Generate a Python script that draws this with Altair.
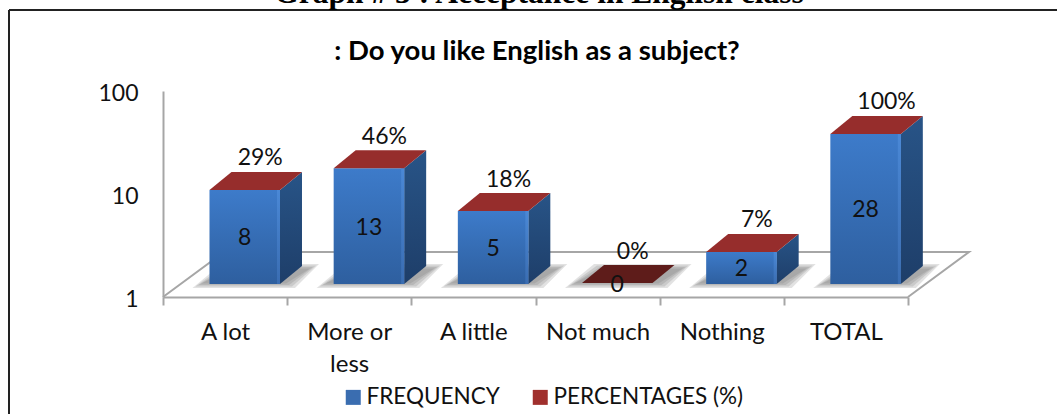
import altair as alt
import pandas as pd

# Survey answers and the two series shown for each of them
categories = ["A lot", "More or less", "A little", "Not much", "Nothing", "TOTAL"]
frequency = [8, 13, 5, 0, 2, 28]
percentages = [29, 46, 18, 0, 7, 100]
series_names = ["FREQUENCY", "PERCENTAGES (%)"]
y_ticks = [1, 10, 100]

# Oblique projection, expressed in screen pixels
PX_PER_CAT = 124.17
PX_PER_DECADE = 103.0


def across(px):
    return px / PX_PER_CAT


def lift(px):
    return 10 ** (px / PX_PER_DECADE)


BAR_LEFT = across(46.5)
BAR_WIDTH = across(70.5)
DEPTH_X = across(22)
DEPTH_LIFT = lift(18)
BASE = lift(13)
TOP = lift(14)

rows, sides, tops, shadows = [], [], [], []
for k, (cat, f, p) in enumerate(zip(categories, frequency, percentages)):
    xl = k + BAR_LEFT
    xr = xl + BAR_WIDTH
    plotted = max(f, 1)
    front = plotted * TOP
    rows.append({
        "cat": cat, "f": f, "p": p, "xl": xl, "xr": xr,
        "xe": xr - across(3),
        "xc": (xl + xr) / 2,
        "top": front, "base": BASE,
        "mid": (plotted ** 0.5) * TOP,
        "xp": (xl + xr) / 2 + across(21 if p == 100 else 15.5),
        "yp": front * DEPTH_LIFT * lift(15),
    })
    sides += [
        {"cat": cat, "f": f, "x": xr, "y": front, "y2": BASE},
        {"cat": cat, "f": f, "x": xr + DEPTH_X, "y": front * DEPTH_LIFT, "y2": BASE * DEPTH_LIFT},
    ]
    tops += [
        {"cat": cat, "f": f, "y": front, "x": xl, "x2": xr},
        {"cat": cat, "f": f, "y": front * DEPTH_LIFT, "x": xl + DEPTH_X, "x2": xr + DEPTH_X},
    ]
    # Soft contact shadow on the floor, built from nested translucent slabs
    for level, grow in enumerate([0, 3, 6, 9]):
        shadows += [
            {"id": f"{k}-{level}", "y": lift(9 + grow / 2),
             "x": xl - across(17 - grow), "x2": xr + across(15 - grow)},
            {"id": f"{k}-{level}", "y": lift(33 - grow / 2),
             "x": xl + across(12 + grow), "x2": xr + across(39 - grow)},
        ]

bars = pd.DataFrame(rows)
sides = pd.DataFrame(sides)
tops = pd.DataFrame(tops)
shadows = pd.DataFrame(shadows)
floor = pd.DataFrame({
    "x": [0, across(61), 6 + across(61), 6],
    "y": [1, lift(45), lift(45), 1],
    "o": [0, 1, 2, 3],
})
legend_rows = pd.DataFrame({"series": series_names})

x_scale = alt.Scale(domain=[0, 6], nice=False, zero=False)
y_scale = alt.Scale(type="log", domain=[1, 100], nice=False)
X = lambda f: alt.X(f, type="quantitative", scale=x_scale, title=None)
Y = lambda f: alt.Y(f, type="quantitative", scale=y_scale, title=None)


def shade(a, b):
    return alt.Gradient(
        gradient="linear", x1=0, x2=0, y1=0, y2=1,
        stops=[alt.GradientStop(color=a, offset=0), alt.GradientStop(color=b, offset=1)],
    )


FONT = "Lato"
GREY = "#A6A6A6"
INK = "#111111"

label_list = "[" + ",".join(
    "[" + ",".join(f"'{w}'" for w in (["More or", "less"] if c == "More or less" else [c])) + "]"
    for c in categories
) + ",['']]"

axes = alt.Chart(bars).mark_point(size=0, opacity=0).encode(
    x=alt.X(
        "xc:Q", scale=x_scale, title=None,
        axis=alt.Axis(
            values=list(range(7)), grid=False, domainColor=GREY, domainWidth=2,
            tickColor=GREY, tickWidth=2, tickSize=8,
            labelExpr=f"{label_list}[datum.value]",
            labelFont=FONT, labelFontSize=24, labelColor=INK, labelPadding=15,
            labelOffset=62, labelOverlap=False, labelLineHeight=32,
            labelBound=False, labelFlush=False,
        ),
    ),
    y=alt.Y(
        "top:Q", scale=y_scale, title=None,
        axis=alt.Axis(
            values=y_ticks, grid=False, domainColor=GREY, domainWidth=2,
            ticks=False, labelFont=FONT, labelFontSize=23, labelColor=INK,
            labelPadding=25, labelOverlap=False, labelOffset=2, format="d",
        ),
    ),
)

floor_line = alt.Chart(floor).mark_line(color=GREY, strokeWidth=2).encode(
    x=X("x"), y=Y("y"), order="o:O"
)

shadow_layer = alt.Chart(shadows).mark_area(
    orient="horizontal", color="#707070", opacity=0.2
).encode(
    y=Y("y"), x=X("x"), x2="x2:Q", detail="id:N"
)

side_layer = alt.Chart(sides[sides.f > 0]).mark_area(
    color=shade("#285487", "#1E3E69")
).encode(x=X("x"), y=Y("y"), y2="y2:Q", detail="cat:N")

front_layer = alt.Chart(bars[bars.f > 0]).mark_rect(
    color=shade("#3D7BCA", "#2E5F9F")
).encode(x=X("xl"), x2="xr:Q", y=Y("top"), y2="base:Q")

edge_layer = alt.Chart(bars[bars.f > 0]).mark_rect(
    color=shade("#4A88D6", "#3A6DB2")
).encode(x=X("xe"), x2="xr:Q", y=Y("top"), y2="base:Q")

top_layer = alt.Chart(tops[tops.f > 0]).mark_area(
    orient="horizontal", color="#962D2C"
).encode(y=Y("y"), x=X("x"), x2="x2:Q", detail="cat:N")

flat_layer = alt.Chart(tops[tops.f == 0]).mark_area(
    orient="horizontal", color="#5E1C1A"
).encode(y=Y("y"), x=X("x"), x2="x2:Q", detail="cat:N")

value_labels = alt.Chart(bars).mark_text(
    font=FONT, fontSize=23, color=INK, baseline="middle", dy=2
).encode(x=X("xc"), y=Y("mid"), text="f:Q")

percent_labels = alt.Chart(bars).transform_calculate(
    label="datum.p + '%'"
).mark_text(
    font=FONT, fontSize=23, color=INK, baseline="middle", dy=1.5
).encode(x=X("xp"), y=Y("yp"), text="label:N")

legend_layer = alt.Chart(legend_rows).mark_square(size=0).encode(
    color=alt.Color(
        "series:N",
        scale=alt.Scale(domain=series_names, range=["#3A6DB0", "#A0302D"]),
        legend=alt.Legend(
            orient="none", legendX=179, legendY=295, direction="horizontal",
            title=None, symbolType="square", symbolSize=225, symbolStrokeWidth=0,
            symbolOpacity=1, labelFont=FONT, labelFontSize=22.5, labelColor=INK,
            labelOffset=2, columnPadding=29, labelLimit=300,
        ),
    )
)

heading = alt.Chart(pd.DataFrame({"t": ["Graph # 3 : Acceptance in English class"]})).mark_text(
    font="Liberation Serif", fontWeight="bold", fontSize=31.5, color="black",
    baseline="alphabetic", align="center",
).encode(text="t:N", x=alt.value(376), y=alt.value(-88))

chart_title = alt.Chart(pd.DataFrame({"t": [": Do you like English as a subject?"]})).mark_text(
    font=FONT, fontWeight="bold", fontSize=27.5, color="black",
    baseline="middle", align="center",
).encode(text="t:N", x=alt.value(374), y=alt.value(-39))

frame_left = alt.Chart(legend_rows.head(1)).mark_rule(color="#222222", strokeWidth=2).encode(
    x=alt.value(-154), y=alt.value(-81), y2=alt.value(323)
)
frame_top = alt.Chart(legend_rows.head(1)).mark_rule(color="#222222", strokeWidth=2).encode(
    x=alt.value(-154), x2=alt.value(894), y=alt.value(-81)
)

chart = alt.layer(
    axes, frame_left, frame_top, heading, chart_title, floor_line, shadow_layer, side_layer,
    front_layer, edge_layer, top_layer, flat_layer, value_labels, percent_labels,
    legend_layer,
).properties(
    width=745, height=206,
    padding={"left": 163, "top": 91, "right": 149, "bottom": 117},
    autosize="none",
    background="white",
).configure_view(stroke=None)

chart.save("out.html", embed_options={"renderer": "svg", "actions": False})
